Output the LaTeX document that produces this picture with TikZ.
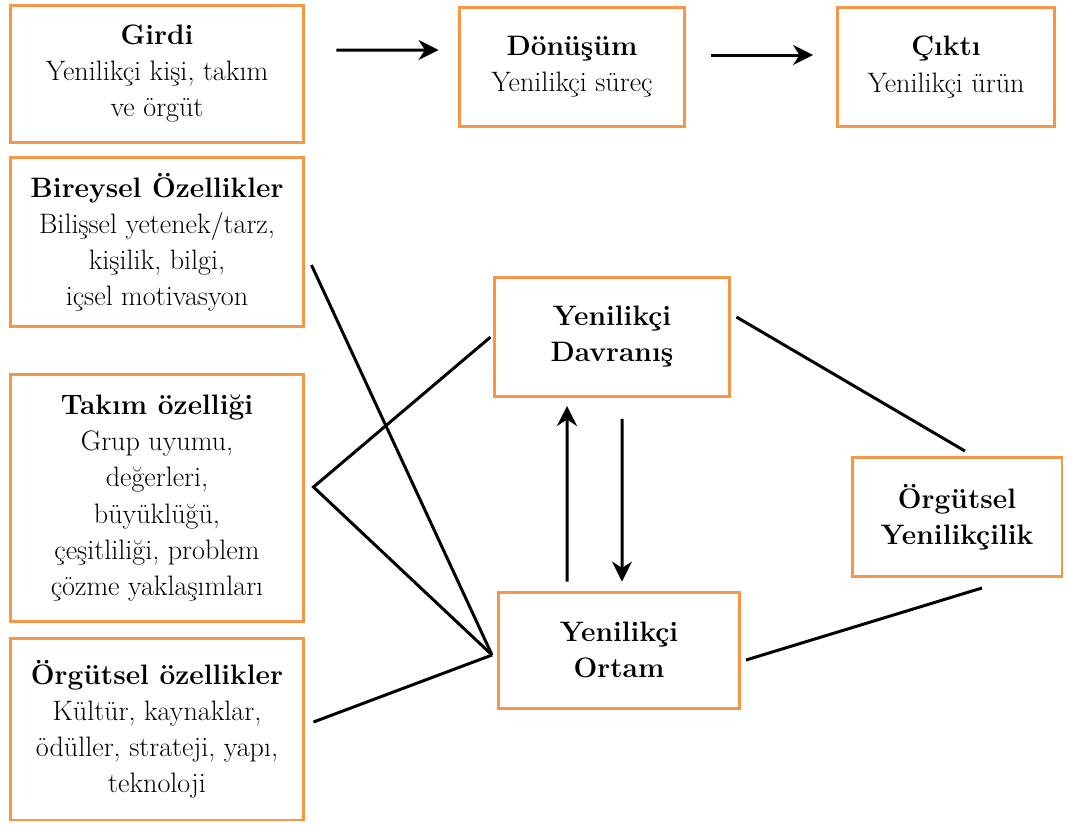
\documentclass[tikz,border=0pt]{standalone}
\usepackage{xcolor}
\usepackage{tikz}
\usetikzlibrary{positioning, arrows.meta}
\definecolor{kututuruncu}{RGB}{247,150,70}

\begin{document}
\begin{tikzpicture}[x=0.02cm, y=-0.02cm,
    kutu/.style={draw=kututuruncu, line width=1.7pt, fill=white, align=center, inner sep=2pt,
      font=\fontsize{16}{20.5}\selectfont},
    bag/.style={line width=1.7pt},
    ok/.style={line width=1.7pt, -{Stealth[length=4mm, width=4mm]}}]
  \useasboundingbox (0,0) rectangle (1070,826);

  % ust sira
  \node[kutu, minimum width=5.88cm, minimum height=2.74cm] (girdi) at (157,74)
    {\textbf{Girdi}\\Yenilikçi kişi, takım\\ve örgüt};
  \node[kutu, minimum width=4.52cm, minimum height=2.38cm] (donusum) at (572,67)
    {\textbf{Dönüşüm}\\Yenilikçi süreç};
  \node[kutu, minimum width=4.34cm, minimum height=2.38cm] (cikti) at (946,67)
    {\textbf{Çıktı}\\Yenilikçi ürün};
  \draw[ok] ([xshift=0.62cm, yshift=0.48cm]girdi.east) -- ([xshift=-0.38cm, yshift=0.34cm]donusum.west);
  \draw[ok] ([xshift=0.5cm, yshift=0.24cm]donusum.east) -- ([xshift=-0.46cm, yshift=0.24cm]cikti.west);

  % sol sutun
  \node[kutu, minimum width=5.88cm, minimum height=3.38cm] (bireysel) at (157,242)
    {\textbf{Bireysel Özellikler}\\Bilişsel yetenek/tarz,\\kişilik, bilgi,\\içsel motivasyon};
  \node[kutu, minimum width=5.88cm, minimum height=4.94cm] (takim) at (157,498)
    {\textbf{Takım özelliği}\\Grup uyumu,\\değerleri,\\büyüklüğü,\\çeşitliliği, problem\\çözme yaklaşımları};
  \node[kutu, minimum width=5.88cm, minimum height=3.64cm] (orgozel) at (157,729)
    {\textbf{Örgütsel özellikler}\\Kültür, kaynaklar,\\ödüller, strateji, yapı,\\teknoloji};

  % orta ve sag
  \node[kutu, minimum width=4.72cm, minimum height=2.38cm] (davranis) at (612,337)
    {\textbf{Yenilikçi}\\\textbf{Davranış}};
  \node[kutu, minimum width=4.82cm, minimum height=2.32cm] (ortam) at (619,650)
    {\textbf{Yenilikçi}\\\textbf{Ortam}};
  \node[kutu, minimum width=4.2cm, minimum height=2.38cm] (orgyen) at (957,517)
    {\textbf{Örgütsel}\\\textbf{Yenilikçilik}};

  % baglantilar
  \draw[bag] ([xshift=0.12cm, yshift=-0.46cm]bireysel.east) -- ([xshift=-0.1cm, yshift=-0.1cm]ortam.west);
  \draw[bag] ([xshift=-0.04cm]davranis.west) -- ([xshift=0.16cm, yshift=0.22cm]takim.east)
    -- ([xshift=-0.1cm, yshift=-0.1cm]ortam.west);
  \draw[bag] ([xshift=0.16cm, yshift=0.14cm]orgozel.east) -- ([xshift=-0.1cm, yshift=-0.1cm]ortam.west);
  \draw[ok] ([xshift=-1.04cm, yshift=0.18cm]ortam.north) -- ([xshift=-0.9cm, yshift=-0.16cm]davranis.south);
  \draw[ok] ([xshift=0.2cm, yshift=-0.42cm]davranis.south) -- ([xshift=0.06cm, yshift=0.18cm]ortam.north);
  \draw[bag] ([xshift=0.1cm, yshift=0.4cm]davranis.east) -- ([xshift=0.16cm, yshift=0.1cm]orgyen.north);
  \draw[bag] ([xshift=0.1cm, yshift=-0.2cm]ortam.east) -- ([xshift=0.5cm, yshift=-0.2cm]orgyen.south);
\end{tikzpicture}
\end{document}
